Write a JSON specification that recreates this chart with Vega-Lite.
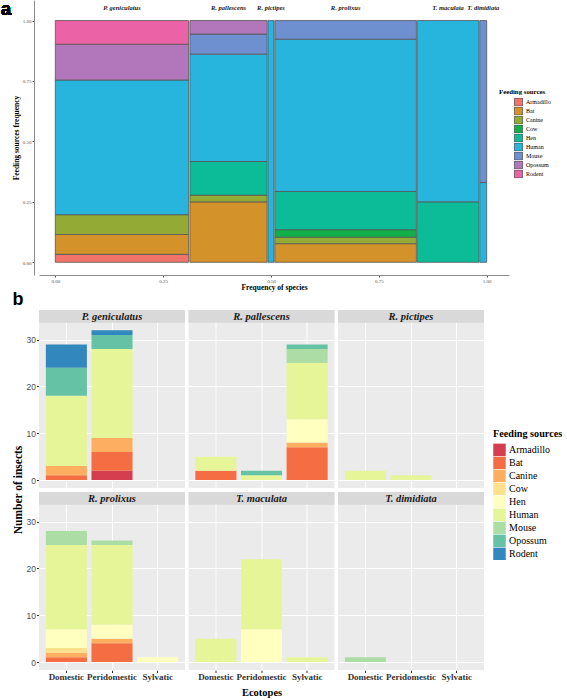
{
  "$schema": "https://vega.github.io/schema/vega-lite/v6.json",
  "padding": 0,
  "background": "white",
  "config": {"view": {"stroke": null}, "font": "Liberation Serif"},
  "datasets": {
    "mosaic": [
      {"species": "P. geniculatus", "source": "Armadillo", "freq": 0.033, "xmin": 0, "xmax": 0.309},
      {"species": "P. geniculatus", "source": "Bat", "freq": 0.082, "xmin": 0, "xmax": 0.309},
      {"species": "P. geniculatus", "source": "Canine", "freq": 0.082, "xmin": 0, "xmax": 0.309},
      {"species": "P. geniculatus", "source": "Human", "freq": 0.557, "xmin": 0, "xmax": 0.309},
      {"species": "P. geniculatus", "source": "Opossum", "freq": 0.148, "xmin": 0, "xmax": 0.309},
      {"species": "P. geniculatus", "source": "Rodent", "freq": 0.098, "xmin": 0, "xmax": 0.309},
      {"species": "R. pallescens", "source": "Bat", "freq": 0.25, "xmin": 0.312, "xmax": 0.491},
      {"species": "R. pallescens", "source": "Canine", "freq": 0.028, "xmin": 0.312, "xmax": 0.491},
      {"species": "R. pallescens", "source": "Hen", "freq": 0.139, "xmin": 0.312, "xmax": 0.491},
      {"species": "R. pallescens", "source": "Human", "freq": 0.444, "xmin": 0.312, "xmax": 0.491},
      {"species": "R. pallescens", "source": "Mouse", "freq": 0.083, "xmin": 0.312, "xmax": 0.491},
      {"species": "R. pallescens", "source": "Opossum", "freq": 0.056, "xmin": 0.312, "xmax": 0.491},
      {"species": "R. pictipes", "source": "Human", "freq": 1, "xmin": 0.493, "xmax": 0.507},
      {"species": "R. prolixus", "source": "Bat", "freq": 0.077, "xmin": 0.509, "xmax": 0.837},
      {"species": "R. prolixus", "source": "Canine", "freq": 0.027, "xmin": 0.509, "xmax": 0.837},
      {"species": "R. prolixus", "source": "Cow", "freq": 0.031, "xmin": 0.509, "xmax": 0.837},
      {"species": "R. prolixus", "source": "Hen", "freq": 0.158, "xmin": 0.509, "xmax": 0.837},
      {"species": "R. prolixus", "source": "Human", "freq": 0.63, "xmin": 0.509, "xmax": 0.837},
      {"species": "R. prolixus", "source": "Mouse", "freq": 0.077, "xmin": 0.509, "xmax": 0.837},
      {"species": "T. maculata", "source": "Hen", "freq": 0.25, "xmin": 0.839, "xmax": 0.982},
      {"species": "T. maculata", "source": "Human", "freq": 0.75, "xmin": 0.839, "xmax": 0.982},
      {"species": "T. dimidiata", "source": "Human", "freq": 0.33, "xmin": 0.984, "xmax": 1.0},
      {"species": "T. dimidiata", "source": "Mouse", "freq": 0.67, "xmin": 0.984, "xmax": 1.0}
    ],
    "insects": [
      {"species": "P. geniculatus", "ecotope": "Domestic", "source": "Bat", "count": 1},
      {"species": "P. geniculatus", "ecotope": "Domestic", "source": "Canine", "count": 2},
      {"species": "P. geniculatus", "ecotope": "Domestic", "source": "Human", "count": 15},
      {"species": "P. geniculatus", "ecotope": "Domestic", "source": "Opossum", "count": 6},
      {"species": "P. geniculatus", "ecotope": "Domestic", "source": "Rodent", "count": 5},
      {"species": "P. geniculatus", "ecotope": "Peridomestic", "source": "Armadillo", "count": 2},
      {"species": "P. geniculatus", "ecotope": "Peridomestic", "source": "Bat", "count": 4},
      {"species": "P. geniculatus", "ecotope": "Peridomestic", "source": "Canine", "count": 3},
      {"species": "P. geniculatus", "ecotope": "Peridomestic", "source": "Human", "count": 19},
      {"species": "P. geniculatus", "ecotope": "Peridomestic", "source": "Opossum", "count": 3},
      {"species": "P. geniculatus", "ecotope": "Peridomestic", "source": "Rodent", "count": 1},
      {"species": "R. pallescens", "ecotope": "Domestic", "source": "Bat", "count": 2},
      {"species": "R. pallescens", "ecotope": "Domestic", "source": "Human", "count": 3},
      {"species": "R. pallescens", "ecotope": "Peridomestic", "source": "Human", "count": 1},
      {"species": "R. pallescens", "ecotope": "Peridomestic", "source": "Opossum", "count": 1},
      {"species": "R. pallescens", "ecotope": "Sylvatic", "source": "Bat", "count": 7},
      {"species": "R. pallescens", "ecotope": "Sylvatic", "source": "Canine", "count": 1},
      {"species": "R. pallescens", "ecotope": "Sylvatic", "source": "Hen", "count": 5},
      {"species": "R. pallescens", "ecotope": "Sylvatic", "source": "Human", "count": 12},
      {"species": "R. pallescens", "ecotope": "Sylvatic", "source": "Mouse", "count": 3},
      {"species": "R. pallescens", "ecotope": "Sylvatic", "source": "Opossum", "count": 1},
      {"species": "R. pictipes", "ecotope": "Domestic", "source": "Human", "count": 2},
      {"species": "R. pictipes", "ecotope": "Peridomestic", "source": "Human", "count": 1},
      {"species": "R. prolixus", "ecotope": "Domestic", "source": "Bat", "count": 1},
      {"species": "R. prolixus", "ecotope": "Domestic", "source": "Canine", "count": 1},
      {"species": "R. prolixus", "ecotope": "Domestic", "source": "Cow", "count": 1},
      {"species": "R. prolixus", "ecotope": "Domestic", "source": "Hen", "count": 4},
      {"species": "R. prolixus", "ecotope": "Domestic", "source": "Human", "count": 18},
      {"species": "R. prolixus", "ecotope": "Domestic", "source": "Mouse", "count": 3},
      {"species": "R. prolixus", "ecotope": "Peridomestic", "source": "Bat", "count": 4},
      {"species": "R. prolixus", "ecotope": "Peridomestic", "source": "Canine", "count": 1},
      {"species": "R. prolixus", "ecotope": "Peridomestic", "source": "Hen", "count": 3},
      {"species": "R. prolixus", "ecotope": "Peridomestic", "source": "Human", "count": 17},
      {"species": "R. prolixus", "ecotope": "Peridomestic", "source": "Mouse", "count": 1},
      {"species": "R. prolixus", "ecotope": "Sylvatic", "source": "Hen", "count": 1},
      {"species": "T. maculata", "ecotope": "Domestic", "source": "Human", "count": 5},
      {"species": "T. maculata", "ecotope": "Peridomestic", "source": "Hen", "count": 7},
      {"species": "T. maculata", "ecotope": "Peridomestic", "source": "Human", "count": 15},
      {"species": "T. maculata", "ecotope": "Sylvatic", "source": "Human", "count": 1},
      {"species": "T. dimidiata", "ecotope": "Domestic", "source": "Mouse", "count": 1}
    ]
  },
  "spacing": 0,
  "resolve": {"scale": {"color": "independent"}, "legend": {"color": "independent"}},
  "vconcat": [
    {
      "width": 470,
      "height": 275,
      "data": {"name": "mosaic"},
      "layer": [
        {
          "transform": [{"stack": "freq", "groupby": ["species"], "sort": [{"field": "source", "order": "ascending"}], "offset": "normalize", "as": ["y0", "y1"]}],
          "mark": {"type": "rect", "stroke": "#555555", "strokeWidth": 0.8},
          "encoding": {
            "x": {"field": "xmin", "type": "quantitative", "title": "Frequency of species",
              "scale": {"domain": [-0.0378, 1.0517], "nice": false, "zero": false},
              "axis": {"values": [0, 0.25, 0.5, 0.75, 1], "format": ".2f", "grid": false, "domainColor": "#8C8C8C", "domainWidth": 1, "tickColor": "#555555", "tickSize": 2, "labelFont": "Liberation Serif", "labelFontSize": 5, "labelColor": "#4D4D4D", "labelPadding": 1, "titleFont": "Liberation Serif", "titleFontWeight": "bold", "titleFontSize": 7.5, "titlePadding": 0.5, "titleColor": "black"}},
            "x2": {"field": "xmax"},
            "y": {"field": "y0", "type": "quantitative", "title": "Feeding sources frequency",
              "scale": {"domain": [-0.0525, 1.085], "nice": false, "zero": false},
              "axis": {"values": [0, 0.25, 0.5, 0.75, 1], "format": ".2f", "offset": 5, "grid": false, "domainColor": "#8C8C8C", "domainWidth": 1, "tickColor": "#555555", "tickSize": 2, "labelFont": "Liberation Serif", "labelFontSize": 5, "labelColor": "#4D4D4D", "labelPadding": 1, "titleFont": "Liberation Serif", "titleFontWeight": "bold", "titleFontSize": 7.5, "titlePadding": 2, "titleColor": "black"}},
            "y2": {"field": "y1"},
            "color": {"field": "source", "type": "nominal",
              "scale": {"domain": ["Armadillo", "Bat", "Canine", "Cow", "Hen", "Human", "Mouse", "Opossum", "Rodent"],
                "range": ["#F27369", "#D4922A", "#93AA35", "#13B04A", "#0CBC98", "#27B5DE", "#6E8FD0", "#B277BA", "#EC62A6"]},
              "legend": {"orient": "none", "legendX": 460, "legendY": 89, "title": "Feeding sources", "titleFont": "Liberation Serif", "titleFontSize": 6.8, "titleFontWeight": "bold", "titleColor": "black", "titlePadding": 2, "labelFont": "Liberation Serif", "labelFontSize": 6, "labelColor": "black", "symbolType": "square", "symbolSize": 64, "symbolStrokeColor": "#333333", "symbolStrokeWidth": 0.6, "symbolOffset": 15, "clipHeight": 8.5, "rowPadding": 0, "labelOffset": 3, "symbolOpacity": 1}}
          }
        },
        {
          "transform": [
            {"aggregate": [{"op": "min", "field": "xmin", "as": "a"}, {"op": "max", "field": "xmax", "as": "b"}], "groupby": ["species"]},
            {"calculate": "(datum.a + datum.b) / 2", "as": "xmid"}
          ],
          "mark": {"type": "text", "font": "Liberation Serif", "fontStyle": "italic", "fontWeight": "bold", "fontSize": 6.5, "color": "#1A1A1A", "baseline": "middle"},
          "encoding": {
            "x": {"field": "xmid", "type": "quantitative"},
            "y": {"datum": 1.053},
            "text": {"field": "species"}
          }
        },
        {
          "mark": {"type": "text", "font": "Liberation Sans", "fontWeight": "bold", "fontSize": 18, "color": "black", "align": "left", "baseline": "alphabetic"},
          "encoding": {
            "x": {"datum": -0.1259},
            "y": {"datum": 1.0236},
            "text": {"value": "a"}
          }
        }
      ]
    },
    {
      "data": {"name": "insects"},
      "title": {"text": "b", "orient": "top", "anchor": "start", "frame": "bounds", "font": "Liberation Sans", "fontSize": 18, "fontWeight": "bold", "color": "black", "offset": 1},
      "transform": [
        {"calculate": "indexof(['P. geniculatus', 'R. pallescens', 'R. pictipes'], datum.species) >= 0 ? 1 : 2", "as": "panelRow"},
        {"calculate": "indexof(['P. geniculatus', 'R. prolixus'], datum.species) >= 0 ? 1 : (indexof(['R. pallescens', 'T. maculata'], datum.species) >= 0 ? 2 : 3)", "as": "panelCol"}
      ],
      "spacing": {"row": 4, "column": 3.5},
      "facet": {
        "row": {"field": "panelRow", "type": "ordinal", "header": {"title": "Number of insects", "titleOrient": "left", "titleFont": "Liberation Serif", "titleFontSize": 11.5, "titleFontWeight": "bold", "titleColor": "black", "titlePadding": -8, "labels": false, "labelExpr": "''", "labelFontSize": 0, "labelPadding": 0}},
        "column": {"field": "panelCol", "type": "ordinal", "header": {"title": "Ecotopes", "titleOrient": "bottom", "titleFont": "Liberation Serif", "titleFontSize": 10.5, "titleFontWeight": "bold", "titleColor": "black", "titlePadding": -4, "labels": false, "labelExpr": "''", "labelFontSize": 0, "labelPadding": 0}}
      },
      "spec": {
        "width": 146,
        "height": 178,
        "view": {"fill": "#EBEBEB", "stroke": null},
        "layer": [
          {
            "mark": {"type": "bar"},
            "encoding": {
              "x": {"field": "ecotope", "type": "nominal", "title": null,
                "scale": {"domain": ["Domestic", "Peridomestic", "Sylvatic"], "paddingInner": 0.1, "paddingOuter": 0.15},
                "axis": {"grid": true, "gridColor": "white", "gridWidth": 1, "bandPosition": 0.5, "domain": false, "tickColor": "#333333", "tickSize": 2.5, "labelFont": "Liberation Serif", "labelFontWeight": "bold", "labelFontSize": 9, "labelColor": "#333333", "labelPadding": 0, "labelAngle": 0}},
              "y": {"field": "count", "type": "quantitative", "stack": "zero", "title": null,
                "scale": {"domain": [-1.7, 36.35], "nice": false, "zero": false},
                "axis": {"values": [0, 5, 10, 15, 20, 25, 30], "grid": true, "gridColor": "white",
                  "gridWidth": {"condition": {"test": "datum.value % 10 === 0", "value": 1}, "value": 0.5},
                  "tickOpacity": {"condition": {"test": "datum.value % 10 === 0", "value": 1}, "value": 0},
                  "labelExpr": "datum.value % 10 === 0 ? datum.label : ''",
                  "domain": false, "tickColor": "#333333", "tickSize": 2.5, "labelFont": "Liberation Sans", "labelFontSize": 8.5, "labelColor": "#4D4D4D", "labelPadding": 1}},
              "color": {"field": "source", "type": "nominal",
                "scale": {"domain": ["Armadillo", "Bat", "Canine", "Cow", "Hen", "Human", "Mouse", "Opossum", "Rodent"],
                  "range": ["#D53E4F", "#F46D43", "#FDAE61", "#FEE08B", "#FFFFBF", "#E6F598", "#ABDDA4", "#66C2A5", "#3288BD"]},
                "legend": {"orient": "none", "legendX": 454, "legendY": 119, "title": "Feeding sources", "titleFont": "Liberation Serif", "titleFontSize": 10.2, "titleFontWeight": "bold", "titleColor": "black", "titlePadding": 4, "labelFont": "Liberation Serif", "labelFontSize": 10, "labelColor": "black", "symbolType": "square", "symbolSize": 156, "symbolStrokeWidth": 0, "symbolOpacity": 1, "clipHeight": 12.9, "rowPadding": 0, "labelOffset": 3}},
              "order": {"field": "source", "sort": "ascending"}
            }
          },
          {
            "transform": [{"aggregate": [{"op": "count", "as": "n"}], "groupby": ["species", "panelRow", "panelCol"]}],
            "mark": {"type": "rect", "fill": "#D9D9D9"},
            "encoding": {"y": {"datum": 33.6}, "y2": {"datum": 36.35}}
          },
          {
            "transform": [{"aggregate": [{"op": "count", "as": "n"}], "groupby": ["species", "panelRow", "panelCol"]}],
            "mark": {"type": "text", "font": "Liberation Serif", "fontStyle": "italic", "fontWeight": "bold", "fontSize": 10.5, "color": "#1A1A1A", "baseline": "middle"},
            "encoding": {"y": {"datum": 34.95}, "text": {"field": "species"}}
          }
        ]
      }
    }
  ]
}
